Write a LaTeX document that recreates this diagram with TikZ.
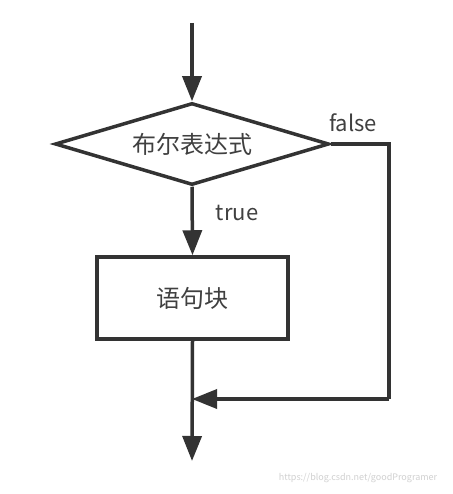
\documentclass[tikz,border=0pt]{standalone}
\usepackage{fontspec}
\setmainfont{Noto Sans CJK SC}
\usetikzlibrary{shapes.geometric,arrows.meta}
\definecolor{ink}{HTML}{333333}
\definecolor{txt}{HTML}{404040}
\tikzset{
  flow/.style={draw=ink, line width=3.5pt},
  arr/.style={flow, -{Triangle[length=25pt,width=19pt]}},
  lbl/.style={text=txt, font=\fontsize{22pt}{25pt}\selectfont, inner sep=0pt},
  decision/.style={diamond, draw=ink, line width=3.5pt, minimum width=274pt, minimum height=82pt, aspect=3.34, inner sep=0pt, text=txt, font=\fontsize{24pt}{28pt}\selectfont},
  block/.style={rectangle, draw=ink, line width=3.5pt, minimum width=191pt, minimum height=82pt, inner sep=0pt, text=txt, font=\fontsize{24pt}{28pt}\selectfont}
}
\begin{document}
\begin{tikzpicture}[x=1pt,y=1pt]
\useasboundingbox (0,0) rectangle (452,-494);
\fill[white] (0,0) rectangle (452,-494);
\coordinate (start) at (192,-23);
\node[decision] (cond) at (192,-144) {布尔表达式};
\node[block] (body) at (192.5,-298) {语句块};
\coordinate (corner1) at (389,-144);
\coordinate (corner2) at (389,-399);
\coordinate (join) at (192,-399);
\coordinate (finish) at (192,-461);
\node[lbl] (falselbl) at (353,-123) {false};
\node[lbl] (truelbl) at (237,-213) {true};
\draw[arr] (start) -- (cond.north);
\draw[arr] (cond.south) -- (body.north);
\draw[flow] (cond.east) -- (corner1) -- (corner2);
\draw[arr] (corner2) -- (join);
\draw[arr] (body.south) -- (finish);
\node[text=black!18, font=\fontsize{9pt}{10pt}\selectfont, inner sep=0pt] (mark) at (358,-478) {https://blog.csdn.net/goodProgramer};
\end{tikzpicture}
\end{document}
